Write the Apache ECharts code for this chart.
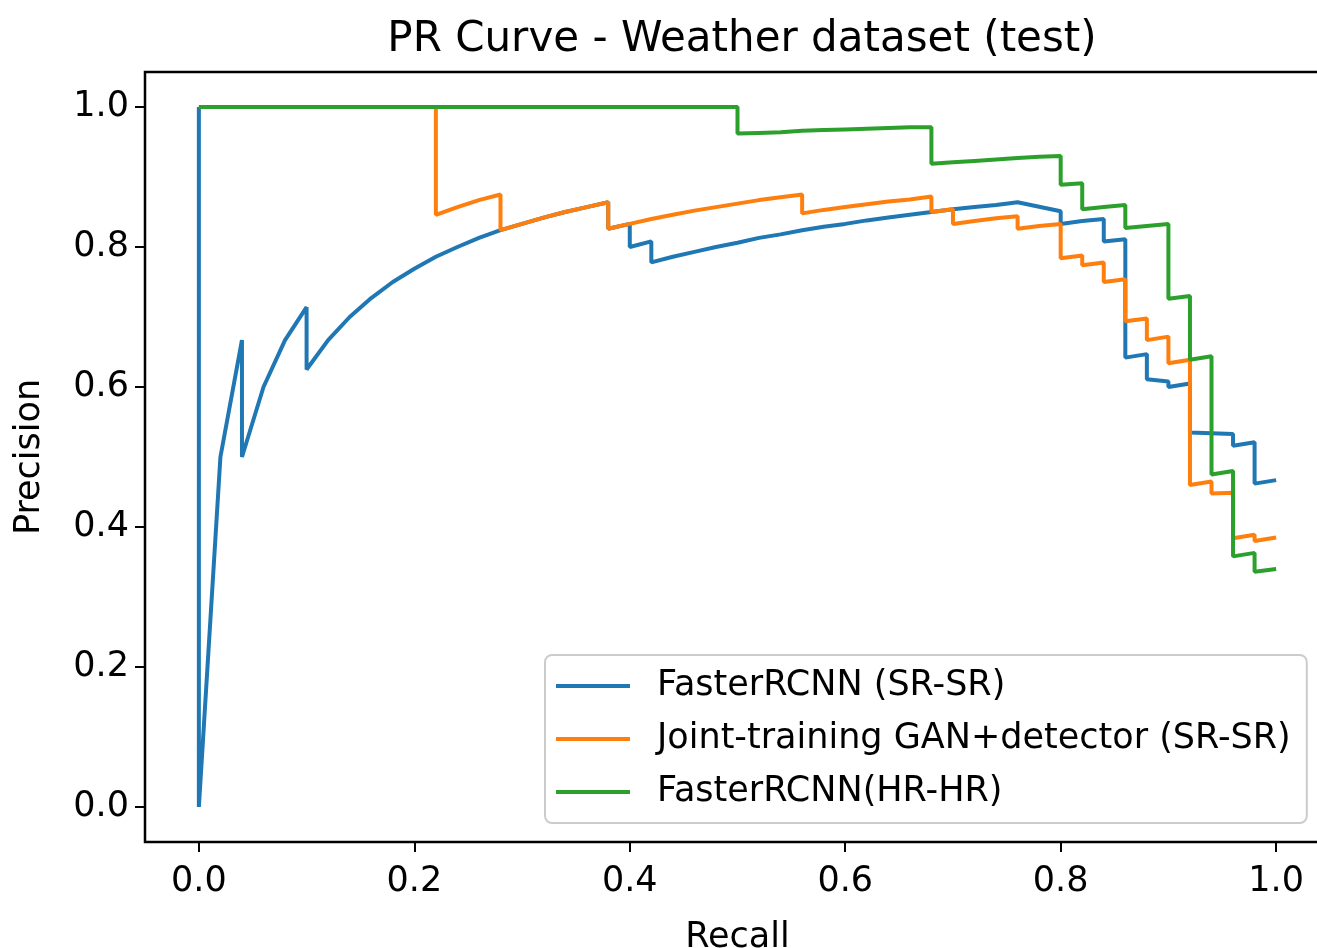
<!DOCTYPE html>
<html>
<head>
<meta charset="utf-8">
<script src="https://cdn.jsdelivr.net/npm/echarts@6/dist/echarts.min.js"></script>
<style>
  html, body { margin: 0; padding: 0; background: #fff; }
  #main { width: 1317px; height: 948px; }
</style>
</head>
<body>
<div id="main"></div>
<script>
// values
const tickValues = [0, 0.2, 0.4, 0.6, 0.8, 1.0];

const blueRecall = [0, 0, 0.02, 0.04, 0.04, 0.06, 0.08, 0.10, 0.10,
  0.12, 0.14, 0.16, 0.18, 0.20, 0.22, 0.24, 0.26, 0.28, 0.30, 0.32, 0.34, 0.36, 0.38,
  0.38, 0.40, 0.40, 0.42, 0.42,
  0.44, 0.46, 0.48, 0.50, 0.52, 0.54, 0.56, 0.58, 0.60, 0.62, 0.64, 0.66, 0.68, 0.70, 0.72, 0.74, 0.76,
  0.80, 0.80, 0.82, 0.84, 0.84, 0.86, 0.86, 0.88, 0.88, 0.90, 0.90, 0.92, 0.92, 0.94, 0.96, 0.96, 0.98, 0.98, 1.00];
const bluePrecision = [1.0, 0.0, 0.5, 0.667, 0.5, 0.6, 0.667, 0.714, 0.625,
  0.667, 0.700, 0.727, 0.750, 0.769, 0.786, 0.800, 0.813, 0.824, 0.833, 0.842, 0.850, 0.857, 0.864,
  0.826, 0.833, 0.800, 0.808, 0.778,
  0.786, 0.793, 0.800, 0.806, 0.813, 0.818, 0.824, 0.829, 0.833, 0.838, 0.842, 0.846, 0.850, 0.854, 0.857, 0.860, 0.864,
  0.851, 0.833, 0.837, 0.840, 0.808, 0.811, 0.642, 0.647, 0.611, 0.608, 0.600, 0.605, 0.535, 0.534, 0.533, 0.516, 0.521, 0.462, 0.467];

const orangeRecall = [0, 0.22, 0.22, 0.24, 0.26, 0.28, 0.28, 0.30, 0.32, 0.34, 0.36, 0.38, 0.38, 0.40,
  0.42, 0.44, 0.46, 0.48, 0.50, 0.52, 0.54, 0.56, 0.56,
  0.58, 0.60, 0.62, 0.64, 0.66, 0.68, 0.68, 0.70, 0.70,
  0.72, 0.74, 0.76, 0.76, 0.78, 0.80, 0.80, 0.82, 0.82, 0.84, 0.84, 0.86, 0.86,
  0.88, 0.88, 0.90, 0.90, 0.92, 0.92, 0.94, 0.94, 0.96, 0.96, 0.98, 0.98, 1.00];
const orangePrecision = [1.0, 1.0, 0.846, 0.857, 0.867, 0.875, 0.824, 0.833, 0.842, 0.850, 0.857, 0.864, 0.826, 0.833,
  0.840, 0.846, 0.852, 0.857, 0.862, 0.867, 0.871, 0.875, 0.848,
  0.853, 0.857, 0.861, 0.865, 0.868, 0.872, 0.850, 0.854, 0.833,
  0.837, 0.841, 0.844, 0.826, 0.830, 0.833, 0.784, 0.788, 0.774, 0.778, 0.750, 0.754, 0.694,
  0.698, 0.667, 0.672, 0.634, 0.639, 0.460, 0.465, 0.448, 0.449, 0.384, 0.389, 0.380, 0.385];

const greenRecall = [0, 0.50, 0.50, 0.52, 0.54, 0.56, 0.58, 0.60, 0.62, 0.64, 0.66, 0.68, 0.68,
  0.70, 0.72, 0.74, 0.76, 0.78, 0.80, 0.80, 0.82, 0.82, 0.84, 0.86, 0.86, 0.88, 0.90, 0.90,
  0.92, 0.92, 0.94, 0.94, 0.96, 0.96, 0.98, 0.98, 1.00];
const greenPrecision = [1.0, 1.0, 0.962, 0.963, 0.964, 0.966, 0.967, 0.968, 0.969, 0.970, 0.971, 0.971, 0.919,
  0.921, 0.923, 0.925, 0.927, 0.929, 0.930, 0.889, 0.891, 0.854, 0.857, 0.860, 0.827, 0.830, 0.833, 0.726,
  0.730, 0.639, 0.644, 0.475, 0.480, 0.358, 0.363, 0.336, 0.340];

const seriesNames = ['FasterRCNN (SR-SR)', 'Joint-training GAN+detector (SR-SR)', 'FasterRCNN(HR-HR)'];
const colors = ['#1f77b4', '#ff7f0e', '#2ca02c'];

function zip(xs, ys) {
  return xs.map((x, i) => [x, ys[i]]);
}

const chart = echarts.init(document.getElementById('main'));

const font = 'DejaVu Sans';
const axisCommon = {
  type: 'value',
  min: -0.05,
  max: 1.05,
  axisLine: { show: false, onZero: false },
  splitLine: { show: false },
  axisTick: {
    show: true,
    inside: false,
    length: 10,
    customValues: tickValues,
    lineStyle: { color: '#000', width: 2 }
  },
  axisLabel: {
    customValues: tickValues,
    color: '#000',
    fontFamily: font,
    fontSize: 35,
    formatter: v => v.toFixed(1)
  },
  nameTextStyle: { color: '#000', fontFamily: font, fontSize: 35 }
};

const option = {
  animation: false,
  backgroundColor: '#fff',
  color: colors,
  title: {
    text: 'PR Curve - Weather dataset (test)',
    left: 737,
    textAlign: 'center',
    top: 14,
    textStyle: { fontFamily: font, fontSize: 42, fontWeight: 'normal', color: '#000' }
  },
  grid: {
    show: true,
    left: 145,
    top: 72,
    width: 1185,
    height: 770,
    outerBoundsMode: 'none',
    containLabel: false,
    borderColor: '#000',
    borderWidth: 2.5,
    backgroundColor: 'transparent'
  },
  legend: {
    orient: 'vertical',
    left: 545,
    top: 655,
    data: seriesNames,
    icon: 'rect',
    itemWidth: 74,
    itemHeight: 4,
    itemGap: 13,
    padding: [11, 16, 11, 11],
    backgroundColor: '#fff',
    borderColor: '#cccccc',
    borderWidth: 2,
    borderRadius: 7,
    textStyle: {
      fontFamily: font,
      fontSize: 35,
      color: '#000',
      lineHeight: 40,
      padding: [0, 0, 0, 22]
    }
  },
  xAxis: Object.assign({}, axisCommon, {
    name: 'Recall',
    nameLocation: 'middle',
    nameGap: 78,
    axisLabel: Object.assign({}, axisCommon.axisLabel, { margin: 22 })
  }),
  yAxis: Object.assign({}, axisCommon, {
    name: 'Precision',
    nameLocation: 'middle',
    nameGap: 98,
    axisLabel: Object.assign({}, axisCommon.axisLabel, { margin: 16 })
  }),
  series: [
    { name: seriesNames[0], data: zip(blueRecall, bluePrecision) },
    { name: seriesNames[1], data: zip(orangeRecall, orangePrecision) },
    { name: seriesNames[2], data: zip(greenRecall, greenPrecision) }
  ].map(s => Object.assign({
    type: 'line',
    showSymbol: false,
    symbol: 'none',
    smooth: false,
    clip: true,
    lineStyle: { width: 4 }
  }, s))
};

chart.setOption(option);
</script>
</body>
</html>
